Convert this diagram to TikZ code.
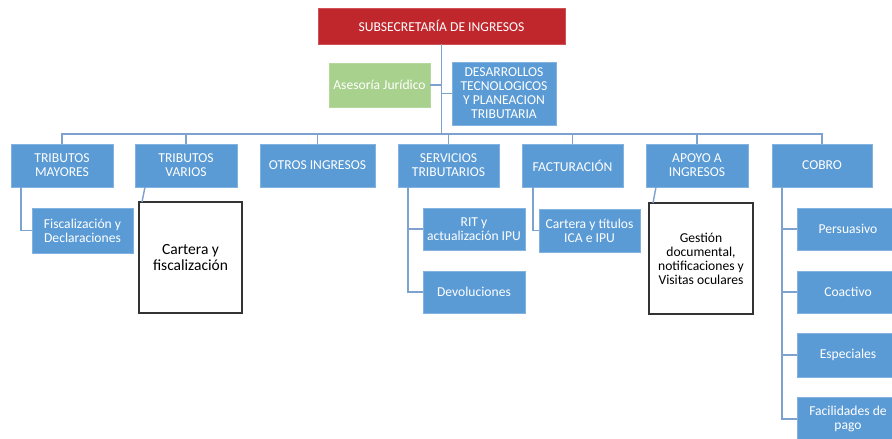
\documentclass[tikz,border=0pt]{standalone}
\usepackage{fontspec}
\setmainfont{Carlito}
\usetikzlibrary{calc}
\definecolor{boxblue}{RGB}{91,155,213}
\definecolor{boxedge}{RGB}{130,178,224}
\definecolor{boxred}{RGB}{192,39,45}
\definecolor{boxgreen}{RGB}{169,209,142}
\definecolor{linkblue}{RGB}{125,162,208}
\begin{document}
\begin{tikzpicture}[x=1bp,y=-1bp,
  every node/.style={inner sep=0pt,outer sep=0pt,align=center,
    font=\fontsize{13.6bp}{14bp}\selectfont},
  unit/.style={fill=boxblue,draw=boxedge,line width=0.6bp,text=white},
  headbox/.style={fill=boxred,draw=boxred!80!white,line width=0.6bp,text=white},
  advbox/.style={fill=boxgreen,draw=boxgreen!85!white,line width=0.6bp,text=white},
  taskbox/.style={fill=white,draw=black!80,line width=1.1bp,text=black},
  conn/.style={draw=linkblue,line width=1.4bp},
  sz/.style n args={2}{minimum width=#1 bp,minimum height=#2 bp}]
\clip (0,0) rectangle (892,439);
\fill[white] (0,0) rectangle (892,439);

% head and staff units
\node[headbox,sz={247}{36}] (sub) at (441.5,26) {SUBSECRETARÍA DE INGRESOS};
\node[advbox,sz={101}{44}] (aj) at (379.5,85) {Asesoría Jurídico};
\node[unit,sz={104}{63}] (dt) at (504,93.5) {DESARROLLOS\\TECNOLOGICOS\\Y PLANEACION\\TRIBUTARIA};

% second level
\node[unit,sz={102}{43}] (tm) at (62,165.5) {TRIBUTOS\\MAYORES};
\node[unit,sz={102}{43}] (tv) at (186,165.5) {TRIBUTOS\\VARIOS};
\node[unit,sz={115}{43}] (oi) at (317.5,165.5) {OTROS INGRESOS};
\node[unit,sz={101}{43}] (st) at (448.5,165.5) {SERVICIOS\\TRIBUTARIOS};
\node[unit,sz={101}{43}] (fa) at (572.5,165.5) {FACTURACIÓN};
\node[unit,sz={102}{43}] (ai) at (697,165.5) {APOYO A\\INGRESOS};
\node[unit,sz={100}{43}] (cb) at (822,165.5) {COBRO};

% third level
\node[unit,sz={101}{45}] (fd) at (82.5,230.5) {Fiscalización y\\Declaraciones};
\node[taskbox,sz={103}{111},font=\fontsize{15.5bp}{16bp}\selectfont] (cf) at (190.5,257.5) {Cartera y\\fiscalización};
\node[unit,sz={102}{42}] (rit) at (474,229) {RIT y\\actualización IPU};
\node[unit,sz={102}{42}] (dv) at (474,292) {Devoluciones};
\node[unit,sz={101}{43}] (ct) at (589.5,230.5) {Cartera y títulos\\ICA e IPU};
\node[taskbox,sz={104}{111}] (gd) at (701,258.5) {Gestión\\documental,\\notificaciones y\\Visitas oculares};
\node[unit,sz={102}{42}] (pe) at (848,229) {Persuasivo};
\node[unit,sz={102}{42}] (co) at (848,292) {Coactivo};
\node[unit,sz={102}{44}] (es) at (848,355) {Especiales};
\node[unit,sz={102}{44}] (fp) at (848,419) {Facilidades de\\pago};

% connectors
\coordinate (bus) at (441.5,134);
\begin{scope}[on background layer/.try]
\draw[conn] (sub.south) -- (bus);
\draw[conn] (aj.east) -- (aj.east -| sub.south);
\draw[conn] (dt.west) -- (dt.west -| sub.south);
\draw[conn] (tm.north) |- (bus) -| (cb.north);
\foreach \n in {tv,oi,st,fa,ai} \draw[conn] (\n.north) -- (\n.north |- bus);
\draw[conn] ($(tm.south west)+(10,0)$) |- (fd.west);
\draw[conn] ($(tv.south west)+(10,0)$) -- ($(cf.north west)+(3,0)$);
\draw[conn] ($(st.south west)+(10,0)$) |- (rit.west);
\draw[conn] ($(st.south west)+(10,0)$) |- (dv.west);
\draw[conn] ($(fa.south west)+(11,0)$) |- (ct.west);
\draw[conn] ($(ai.south west)+(10,0)$) -- ($(gd.north west)+(4,0)$);
\foreach \n in {pe,co,es,fp} \draw[conn] ($(cb.south west)+(10,0)$) |- (\n.west);
\end{scope}
\end{tikzpicture}
\end{document}
